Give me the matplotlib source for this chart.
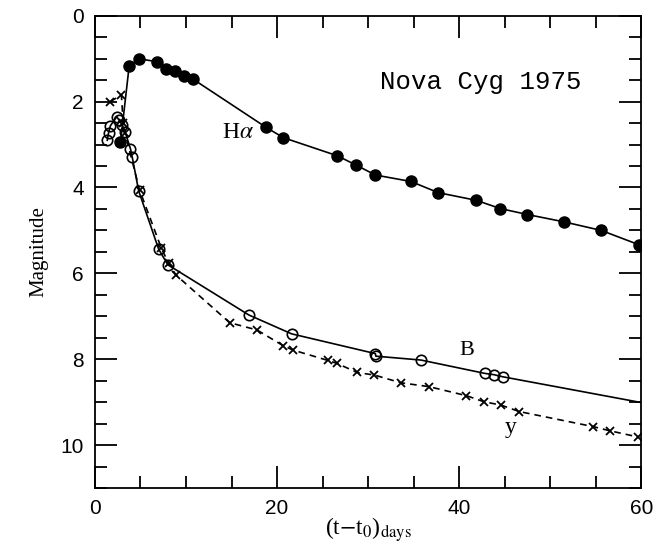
import matplotlib
matplotlib.use("Agg")
import matplotlib.pyplot as plt
from matplotlib.ticker import MultipleLocator

plt.rcParams["mathtext.fontset"] = "stix"
plt.rcParams["font.family"] = ["Liberation Serif", "DejaVu Serif"]

# H-alpha (filled circles)
ha_t = [2.8, 3.75, 4.8, 6.8, 7.8, 8.8, 9.8, 10.8, 18.8, 20.7, 26.6, 28.7,
        30.8, 34.7, 37.7, 41.9, 44.5, 47.5, 51.5, 55.6, 59.7]
ha_mag = [2.95, 1.18, 1.0, 1.07, 1.24, 1.28, 1.41, 1.48, 2.6, 2.84, 3.26, 3.48,
          3.71, 3.86, 4.12, 4.3, 4.49, 4.63, 4.8, 5.0, 5.33]

# B (open circles)
b_t = [1.35, 1.5, 1.7, 2.4, 2.6, 3.0, 3.3, 3.9, 4.1, 4.8, 7.0, 8.0, 16.9,
       21.6, 30.8, 30.85, 35.8, 42.8, 43.8, 44.8, 61.0]
b_mag = [2.9, 2.72, 2.56, 2.35, 2.42, 2.55, 2.7, 3.1, 3.3, 4.08, 5.44, 5.8,
         6.97, 7.41, 7.87, 7.93, 8.02, 8.33, 8.36, 8.41, 9.05]

# y (crosses)
y_t = [1.7, 2.9, 3.1, 3.3, 4.9, 7.3, 8.1, 8.9, 14.8, 17.8, 20.7, 21.8, 25.6,
       26.6, 28.8, 30.7, 33.6, 36.7, 40.8, 42.7, 44.6, 46.6, 54.7, 56.6, 59.6]
y_mag = [2.0, 1.84, 2.5, 2.73, 4.06, 5.42, 5.77, 6.04, 7.15, 7.32, 7.69, 7.79,
         8.03, 8.1, 8.31, 8.37, 8.55, 8.64, 8.85, 8.99, 9.07, 9.22, 9.57,
         9.67, 9.81]

fig = plt.figure(figsize=(6.55, 5.44), dpi=100)
ax = fig.add_axes([0.145, 0.103, 0.834, 0.868])

ax.plot(ha_t, ha_mag, "-", color="black", lw=1.2, marker="o",
        ms=8, mfc="black", mec="black")
ax.plot(b_t, b_mag, "-", color="black", lw=1.2, marker="o",
        ms=7.5, mfc="none", mec="black", mew=1.2)
ax.plot(y_t, y_mag, "--", color="black", lw=1.2, marker="x",
        ms=5.5, mec="black", mew=1.3, dashes=(4, 3))

ax.set_xlim(0, 60)
ax.set_ylim(11, 0)
ax.xaxis.set_major_locator(MultipleLocator(20))
ax.xaxis.set_minor_locator(MultipleLocator(5))
ax.yaxis.set_major_locator(MultipleLocator(2))
ax.yaxis.set_minor_locator(MultipleLocator(0.5))
ax.tick_params(which="both", direction="in", top=True, right=True, width=1.3)
ax.tick_params(which="major", length=16, labelsize=15, pad=8)
ax.tick_params(which="minor", length=8.5)
for lab in ax.get_xticklabels() + ax.get_yticklabels():
    lab.set_family(["Liberation Sans", "DejaVu Sans"])
for s in ax.spines.values():
    s.set_linewidth(1.3)

ax.set_ylabel("Magnitude", fontsize=15, labelpad=9)
ax.set_xlabel(r"(t$-$t$_0$)$_{\rm days}$", fontsize=17, labelpad=-2)

ax.text(15.7, 2.73, r"H$\alpha$", fontsize=17, ha="center", va="center")
ax.text(40.8, 7.8, "B", fontsize=16, ha="center", va="center")
ax.text(45.7, 9.6, "y", fontsize=17, ha="center", va="center")
ax.text(0.707, 0.86, "Nova Cyg 1975", transform=ax.transAxes, fontsize=18.5,
        family="Liberation Mono", ha="center", va="center")

fig.savefig("out.png", dpi=100)
